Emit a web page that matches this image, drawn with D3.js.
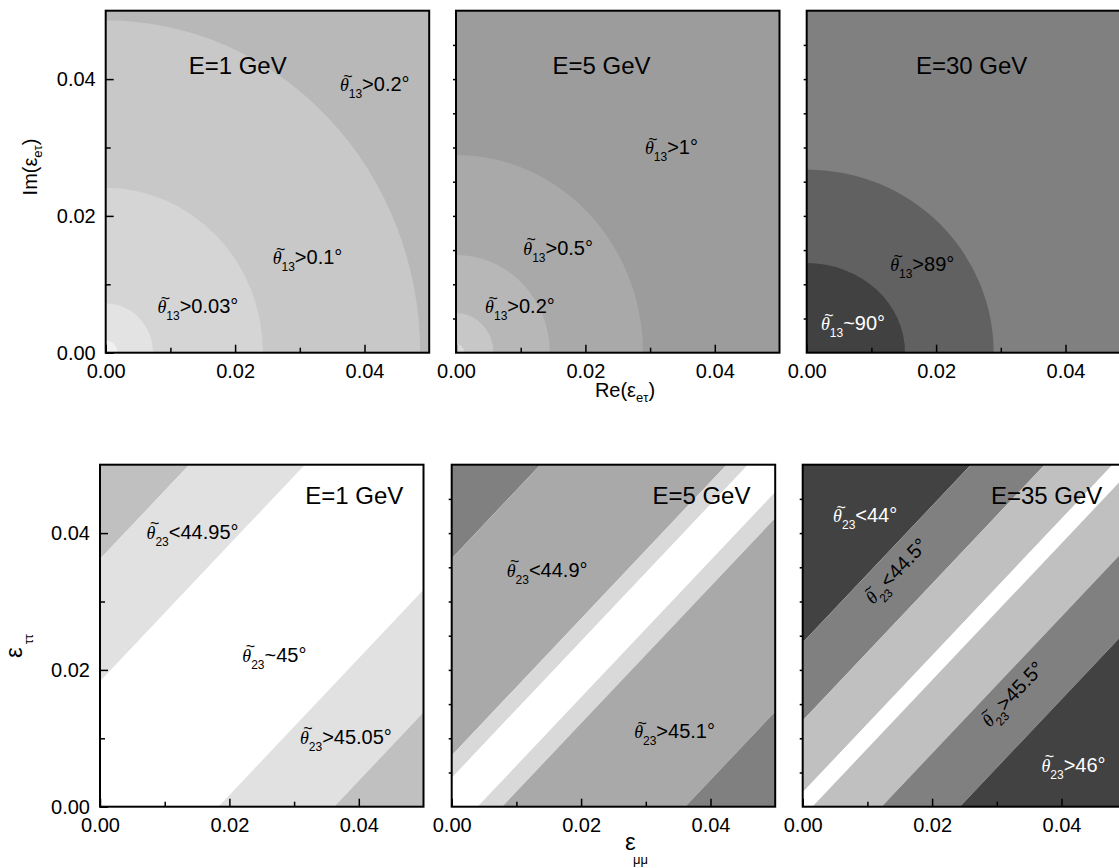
<!DOCTYPE html>
<html>
<head>
<meta charset="utf-8">
<script src="https://cdn.jsdelivr.net/npm/d3@7"></script>
<style>
  body { margin: 0; background: #fff; }
  svg { display: block; font-family: "Liberation Sans", Arial, sans-serif; }
</style>
</head>
<body>
<div id="chart"></div>
<script>
// ---- top row: theta13 contours in the Re/Im(eps_etau) plane ----
const topTitles = ["E=1 GeV", "E=5 GeV", "E=30 GeV"];
// contour radii [rx, ry], outermost first
const topRadii = [
  [[0.0486, 0.0486], [0.0243, 0.0241], [0.0073, 0.0072], [0.0018, 0.0018]],
  [[0.0289, 0.0289], [0.0145, 0.0143], [0.0058, 0.0058], [0.0013, 0.0013]],
  [[0.0289, 0.0268], [0.0152, 0.0131]]
];
// region labels: anchor in data units, rest of the text
const topLabels = [
  [{ x: 0.0362, y: 0.0382, txt: ">0.2°" },
   { x: 0.0258, y: 0.0129, txt: ">0.1°" },
   { x: 0.0080, y: 0.0058, txt: ">0.03°" }],
  [{ x: 0.0292, y: 0.0290, txt: ">1°" },
   { x: 0.0104, y: 0.0143, txt: ">0.5°" },
   { x: 0.0045, y: 0.0058, txt: ">0.2°" }],
  [{ x: 0.0129, y: 0.0119, txt: ">89°" },
   { x: 0.0022, y: 0.0033, txt: "~90°", light: true }]
];

// ---- bottom row: theta23 bands in the eps_mumu / eps_tautau plane ----
const botTitles = ["E=1 GeV", "E=5 GeV", "E=35 GeV"];
// band edges as offsets c of the lines eps_tt = eps_mm + c, top to bottom
const botEdges = [
  [0.0362, 0.0183, -0.0183, -0.0362],
  [0.0363, 0.0075, 0.0042, -0.0040, -0.0078, -0.0361],
  [0.0240, 0.0126, 0.0021, -0.0015, -0.0122, -0.0243]
];
const botLabels = [
  [{ x: 0.0072, y: 0.0392, txt: "<44.95°" },
   { x: 0.0220, y: 0.0212, txt: "~45°" },
   { x: 0.0309, y: 0.0092, txt: ">45.05°" }],
  [{ x: 0.0085, y: 0.0336, txt: "<44.9°" },
   { x: 0.0282, y: 0.0100, txt: ">45.1°" }],
  [{ x: 0.0047, y: 0.0416, txt: "<44°", light: true },
   { x: 0.0109, y: 0.0295, txt: "<44.5°", along: true },
   { x: 0.0289, y: 0.0115, txt: ">45.5°", along: true },
   { x: 0.0369, y: 0.0051, txt: ">46°", light: true }]
];

const majorTicks = [0, 0.02, 0.04];
const minorTicks = [0.01, 0.03];
const sideTicks = [0.005, 0.01, 0.015, 0.02, 0.025, 0.03, 0.035, 0.04, 0.045];

// grey shades, outermost region first
const topShades = [
  ["#b8b8b8", "#c8c8c8", "#d5d5d5", "#e3e3e3", "#f1f1f1"],
  ["#9c9c9c", "#a9a9a9", "#b7b7b7", "#c7c7c7", "#d8d8d8"],
  ["#808080", "#616161", "#414141"]
];
const botShades = [
  ["#c0c0c0", "#e1e1e1", "#ffffff", "#e1e1e1", "#c0c0c0"],
  ["#808080", "#a9a9a9", "#d9d9d9", "#ffffff", "#d9d9d9", "#a9a9a9", "#808080"],
  ["#424242", "#808080", "#c0c0c0", "#ffffff", "#c0c0c0", "#808080", "#424242"]
];

const WD = 1119, HT = 868;
const PW = 323.5, PH = 342;
const topLeft = [105.7, 456, 806.7], topY = 10.7;
const botLeft = [100, 451.7, 802.7], botY = 464.7;

const svg = d3.select("#chart").append("svg")
  .attr("width", WD).attr("height", HT);
const defs = svg.append("defs");

let clipN = 0;
function makePanel(left, top) {
  const g = svg.append("g").attr("transform", `translate(${left},${top})`);
  const x = d3.scaleLinear().domain([0, 0.05]).range([0, PW]);
  const y = d3.scaleLinear().domain([0, 0.05]).range([PH, 0]);
  const id = "clip" + (clipN++);
  defs.append("clipPath").attr("id", id)
    .append("rect").attr("width", PW).attr("height", PH);
  const fill = g.append("g").attr("clip-path", `url(#${id})`);
  return { g, x, y, fill };
}

function styleAxis(sel) {
  sel.select(".domain").remove();
  sel.attr("font-size", 20).attr("font-family", null);
  sel.selectAll("line").attr("stroke-width", 1.5);
}

function drawAxes(p, leftmost) {
  const { g, x, y } = p;
  g.append("g").attr("transform", `translate(0,${PH})`)
    .call(d3.axisBottom(x).tickValues(majorTicks).tickSize(-8).tickPadding(11)
      .tickFormat(d3.format(".2f")))
    .call(styleAxis);
  g.append("g").attr("transform", `translate(0,${PH})`)
    .call(d3.axisBottom(x).tickValues(minorTicks).tickSize(-5).tickFormat(""))
    .call(styleAxis);
  if (leftmost) {
    g.append("g")
      .call(d3.axisLeft(y).tickValues(majorTicks).tickSize(-8).tickPadding(10)
        .tickFormat(d3.format(".2f")))
      .call(styleAxis);
    g.append("g")
      .call(d3.axisLeft(y).tickValues(minorTicks).tickSize(-5).tickFormat(""))
      .call(styleAxis);
  } else {
    g.append("g")
      .call(d3.axisLeft(y).tickValues(sideTicks).tickSize(3).tickFormat(""))
      .call(styleAxis);
  }
  g.append("rect").attr("width", PW).attr("height", PH)
    .attr("fill", "none").attr("stroke", "#000").attr("stroke-width", 2);
}

function thetaLabel(p, d, sub) {
  const px = p.x(d.x), py = p.y(d.y);
  let tr = `translate(${px},${py})`;
  if (d.along) {
    const ang = Math.atan2(p.y(0) - p.y(0.01), p.x(0.01) - p.x(0)) * 180 / Math.PI;
    tr += ` rotate(${-ang})`;
  }
  const color = d.light ? "#fff" : "#000";
  const t = p.g.append("g").attr("transform", tr).attr("fill", color);
  // tilde over theta
  t.append("text").attr("x", 8).attr("y", -9.5).attr("text-anchor", "middle")
    .attr("font-size", 16).text("~");
  const tx = t.append("text").attr("font-size", 20);
  tx.append("tspan")
    .attr("font-family", "'Liberation Serif', 'Times New Roman', serif")
    .attr("font-style", "italic").attr("font-size", 18).text("θ");
  tx.append("tspan").attr("font-size", 12).attr("dy", 7).text(sub);
  tx.append("tspan").attr("dy", -7).text(d.txt);
}

function title(p, txt, cx, cy) {
  p.g.append("text").attr("x", p.x(cx)).attr("y", p.y(cy))
    .attr("text-anchor", "middle").attr("font-size", 24).text(txt);
}

// top row
topTitles.forEach((t, i) => {
  const p = makePanel(topLeft[i], topY);
  const shades = topShades[i];
  p.fill.append("rect").attr("width", PW).attr("height", PH).attr("fill", shades[0]);
  p.fill.selectAll("ellipse").data(topRadii[i]).join("ellipse")
    .attr("cx", p.x(0)).attr("cy", p.y(0))
    .attr("rx", d => p.x(d[0]) - p.x(0))
    .attr("ry", d => p.y(0) - p.y(d[1]))
    .attr("fill", (d, j) => shades[j + 1]);
  drawAxes(p, i === 0);
  title(p, t, [0.0204, 0.0225, 0.0255][i], 0.0408);
  topLabels[i].forEach(d => thetaLabel(p, d, "13"));
});

// bottom row
botTitles.forEach((t, i) => {
  const p = makePanel(botLeft[i], botY);
  const edges = [1].concat(botEdges[i], [-1]);
  const bands = d3.pairs(edges);
  p.fill.selectAll("polygon").data(bands).join("polygon")
    .attr("points", ([hi, lo]) => [
      [-1, -1 + hi], [1, 1 + hi], [1, 1 + lo], [-1, -1 + lo]
    ].map(([a, b]) => [p.x(a), p.y(b)].join(",")).join(" "))
    .attr("fill", (d, j) => botShades[i][j]);
  drawAxes(p, i === 0);
  title(p, t, [0.0393, 0.0386, 0.0377][i], 0.0443);
  botLabels[i].forEach(d => thetaLabel(p, d, "23"));
});

// axis titles
const imLab = svg.append("text").attr("transform", "translate(37,167) rotate(-90)")
  .attr("text-anchor", "middle").attr("font-size", 20);
imLab.append("tspan").text("Im(ε");
imLab.append("tspan").attr("font-size", 13).attr("dy", 5).text("eτ");
imLab.append("tspan").attr("dy", -5).text(")");

const reLab = svg.append("text").attr("x", 625).attr("y", 397)
  .attr("text-anchor", "middle").attr("font-size", 20);
reLab.append("tspan").text("Re(ε");
reLab.append("tspan").attr("font-size", 13).attr("dy", 5).text("eτ");
reLab.append("tspan").attr("dy", -5).text(")");

const ttLab = svg.append("text").attr("transform", "translate(22,658) rotate(-90)")
  .attr("font-size", 24);
ttLab.append("tspan").text("ε");
ttLab.append("tspan").attr("font-size", 13).attr("dx", 3).attr("dy", 11).text("ττ");

const mmLab = svg.append("text").attr("x", 625).attr("y", 850).attr("font-size", 24);
mmLab.append("tspan").text("ε");
mmLab.append("tspan").attr("font-size", 13).attr("x", 633).attr("y", 864).text("μμ");
</script>
</body>
</html>
